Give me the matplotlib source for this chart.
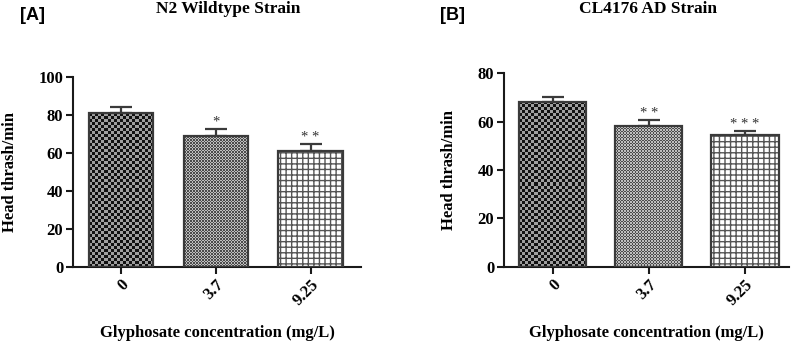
import numpy as np
import matplotlib
matplotlib.use("Agg")
import matplotlib.pyplot as plt

categories = ["0", "3.7", "9.25"]
n2_means = [80.9, 68.9, 60.8]
n2_sem = [3.3, 3.9, 3.9]
n2_stars = ["", "*", "* *"]
cl_means = [68.3, 58.3, 54.6]
cl_sem = [2.0, 2.4, 1.5]
cl_stars = ["", "* *", "* * *"]

SERIF = ["Liberation Serif", "DejaVu Serif"]
SANS = ["Liberation Sans", "DejaVu Sans"]
EDGE = "#3a3a3a"

fig = plt.figure(figsize=(7.96, 3.43), dpi=100)
axA = fig.add_axes([73/796, 1-267/343, (361-73)/796, (267-77)/343])
axB = fig.add_axes([504/796, 1-266.7/343, (789-504)/796, (266.7-73.3)/343])


def checker(nx, ny, c1, c2):
    a = np.indices((ny, nx)).sum(axis=0) % 2
    img = np.zeros((ny, nx, 3))
    img[a == 0] = c1
    img[a == 1] = c2
    return img


def panel(ax, means, sem, stars, ymax, yticks, xlim, width, title, tag, tagx, titlex, ylabx):
    x = np.arange(len(categories))
    bars = ax.bar(x, means, width=width, facecolor="white", edgecolor=EDGE,
                  linewidth=1.6, zorder=3)
    ax.errorbar(x, means, yerr=[np.zeros(len(sem)), sem], fmt="none",
                ecolor=EDGE, elinewidth=1.6, capsize=8, capthick=1.6, zorder=2)
    ax.set_xlim(*xlim)
    ax.set_ylim(0, ymax)
    ax.set_yticks(yticks)
    ax.set_xticks(x)
    ax.set_xticklabels(categories, rotation=45, ha="right", rotation_mode="anchor")
    for lab in ax.get_xticklabels() + ax.get_yticklabels():
        lab.set_fontfamily(SERIF)
        lab.set_fontweight("bold")
        lab.set_fontsize(12)
    for s in ["top", "right"]:
        ax.spines[s].set_visible(False)
    for s in ["left", "bottom"]:
        ax.spines[s].set_linewidth(1.5)
        ax.spines[s].set_color("#1a1a1a")
    ax.tick_params(width=1.5, length=5, color="#1a1a1a", pad=2)
    ax.set_ylabel("Head thrash/min", fontfamily=SERIF, fontweight="bold", fontsize=12)
    ax.yaxis.set_label_coords(ylabx, 0.5)
    ax.set_xlabel("Glyphosate concentration (mg/L)", fontfamily=SERIF, fontweight="bold",
                  fontsize=12, labelpad=12)
    for xi, m, e, s in zip(x, means, sem, stars):
        if s:
            ax.text(xi, m + e, s, ha="center", va="bottom", fontfamily=SERIF,
                    fontsize=10.5, color="#333333")
    fig.text(titlex, 1-9/343, title, ha="center", va="center", fontfamily=SERIF,
             fontweight="bold", fontsize=12.5)
    fig.text(tagx, 1-15/343, tag, ha="left", va="center", fontfamily=SANS,
             fontweight="bold", fontsize=13)
    return bars


barsA = panel(axA, n2_means, n2_sem, n2_stars, 100, [0, 20, 40, 60, 80, 100],
              (-0.507, 2.533), 0.68, "N2 Wildtype Strain", "[A]", 20/796, 228/796, -0.19)
barsB = panel(axB, cl_means, cl_sem, cl_stars, 80, [0, 20, 40, 60, 80],
              (-0.504, 2.457), 0.70, "CL4176 AD Strain", "[B]", 440/796, 648/796, -0.165)

fig.canvas.draw()
renderer = fig.canvas.get_renderer()

for ax, bars in [(axA, barsA), (axB, barsB)]:
    for i, b in enumerate(bars):
        bb = b.get_window_extent(renderer)
        x0, y0 = b.get_x(), b.get_y()
        x1, y1 = x0 + b.get_width(), y0 + b.get_height()
        if i == 0:
            sq = 3.0
            nx = max(1, int(round(bb.width / sq)))
            ny = max(1, int(round(bb.height / sq)))
            img = checker(nx, ny, (0.07, 0.07, 0.07), (0.62, 0.62, 0.62))
        elif i == 1:
            sq = 1.5
            nx = max(1, int(round(bb.width / sq)))
            ny = max(1, int(round(bb.height / sq)))
            img = checker(nx, ny, (0.3, 0.3, 0.3), (0.75, 0.75, 0.75))
        else:
            b.set_hatch("+++")
            if hasattr(b, "set_hatch_linewidth"):
                b.set_hatch_linewidth(1.0)
            b._hatch_color = matplotlib.colors.to_rgba("#555555")
            continue
        im = ax.imshow(img, extent=(x0, x1, y0, y1), origin="lower",
                       interpolation="nearest", aspect="auto", zorder=2.5)
        im.set_clip_path(b)
        b.set_facecolor("none")
    ax.set_xlim(ax.get_xlim())
    ax.set_ylim(ax.get_ylim())
    ax.set_aspect("auto")

fig.savefig("out.png", dpi=100)
